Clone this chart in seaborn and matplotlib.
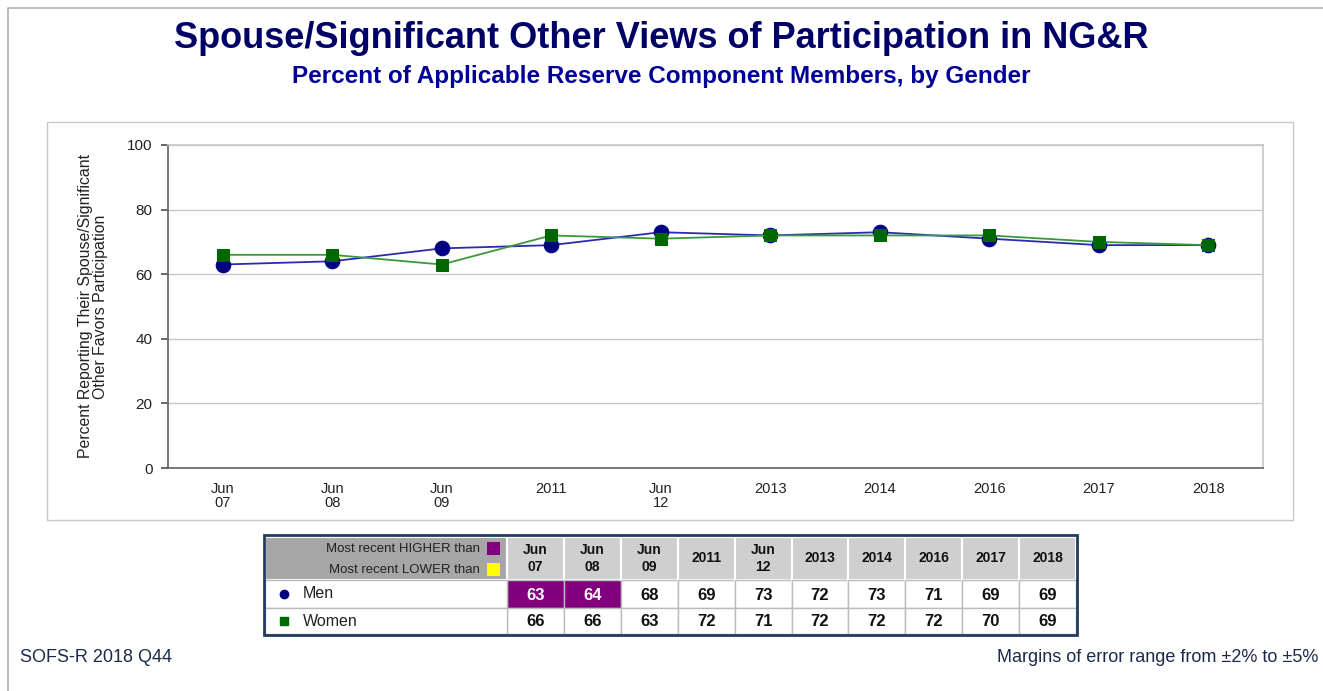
import matplotlib.pyplot as plt
import seaborn as sns
import pandas as pd
from matplotlib.patches import Rectangle

# data
periods = ["Jun\n07", "Jun\n08", "Jun\n09", "2011", "Jun\n12",
           "2013", "2014", "2016", "2017", "2018"]
men = [63, 64, 68, 69, 73, 72, 73, 71, 69, 69]
women = [66, 66, 63, 72, 71, 72, 72, 72, 70, 69]
# significance vs most recent: "higher" / "lower" / None
men_sig = ["higher", "higher", None, None, None, None, None, None, None, None]
women_sig = [None] * 10

yticks = [0, 20, 40, 60, 80, 100]

NAVY = "#0a0a6b"
GREEN = "#006600"
SIG_COLORS = {"higher": "#800080", "lower": "#ffff00"}

sns.set_theme(style="white")
plt.rcParams["font.family"] = ["Liberation Sans", "DejaVu Sans"]

W, H = 1323, 691
fig = plt.figure(figsize=(W / 100, H / 100), dpi=100)

# background overlay in pixel coords
bg = fig.add_axes([0, 0, 1, 1], zorder=0)
bg.set_xlim(0, W)
bg.set_ylim(H, 0)
bg.axis("off")
bg.plot([8, 8, W], [H, 8, 8], color="#b0b0b0", lw=1.2)
bg.add_patch(Rectangle((47, 122), 1246, 398, fill=False, ec="#c8c8c8", lw=1))

fig.text(0.5, 1 - 38 / H, "Spouse/Significant Other Views of Participation in NG&R",
         ha="center", va="center", fontsize=26, fontweight="bold", color="#000066")
fig.text(0.5, 1 - 76 / H, "Percent of Applicable Reserve Component Members, by Gender",
         ha="center", va="center", fontsize=17.5, fontweight="bold", color="#000099")

# main chart
ax = fig.add_axes([168 / W, 1 - 468 / H, (1263 - 168) / W, (468 - 145) / H], zorder=1)
ax.patch.set_alpha(0)
df = pd.DataFrame({
    "x": list(range(len(periods))) * 2,
    "value": men + women,
    "group": ["Men"] * len(men) + ["Women"] * len(women),
})
sns.lineplot(data=df[df.group == "Men"], x="x", y="value", ax=ax, color="#2b2bb0",
             lw=1.3, marker="o", markersize=10.5, markerfacecolor="#000080",
             markeredgecolor="#000080", legend=False)
sns.lineplot(data=df[df.group == "Women"], x="x", y="value", ax=ax, color="#3a9a3a",
             lw=1.3, marker="s", markersize=8.5, markerfacecolor=GREEN,
             markeredgecolor=GREEN, legend=False)

ax.set_xlim(-0.5, len(periods) - 0.5)
ax.set_ylim(0, 100)
ax.set_yticks(yticks)
ax.set_xticks(range(len(periods)))
ax.set_xticklabels(periods, fontsize=10.5, color="#222222", linespacing=1.0)
ax.set_xticks([i + 0.5 for i in range(-1, len(periods))], minor=True)
ax.tick_params(axis="x", which="major", length=0, pad=10)
ax.tick_params(axis="x", which="minor", length=5, color="#555555", direction="out")
ax.tick_params(axis="y", length=5, color="#555555", direction="out", left=True,
               labelsize=11, labelcolor="#222222", pad=6)
ax.yaxis.grid(True, color="#c8c8c8", lw=1)
for s in ["left", "bottom"]:
    ax.spines[s].set_color("#666666")
for s in ["top", "right"]:
    ax.spines[s].set_color("#c8c8c8")
ax.set_xlabel("")
ax.set_ylabel("Percent Reporting Their Spouse/Significant\nOther Favors Participation",
              fontsize=11.4, color="#222222", linespacing=1.0, labelpad=14)

# table
tx0, tx1 = 265, 1076
first_w = 242
col_w = (tx1 - tx0 - first_w) / len(periods)
ry = [537, 580, 608, 634]
hdr_dark, hdr_light = "#a6a6a6", "#cfcfcf"
bg.add_patch(Rectangle((tx0, ry[0]), first_w, ry[1] - ry[0], fc=hdr_dark, ec="white", lw=1.5))
bg.text(480, 549, "Most recent HIGHER than", ha="right", va="center", fontsize=9.5, color="#222222")
bg.text(480, 570, "Most recent LOWER than", ha="right", va="center", fontsize=9.5, color="#222222")
bg.add_patch(Rectangle((487, 542), 13, 13, fc=SIG_COLORS["higher"], ec="none"))
bg.add_patch(Rectangle((487, 563), 13, 13, fc=SIG_COLORS["lower"], ec="none"))

rows = [("Men", men, men_sig, "o", "#000080"), ("Women", women, women_sig, "s", GREEN)]
for j, lab in enumerate(periods):
    cx = tx0 + first_w + j * col_w
    bg.add_patch(Rectangle((cx, ry[0]), col_w, ry[1] - ry[0], fc=hdr_light, ec="white", lw=1.5))
    bg.text(cx + col_w / 2, (ry[0] + ry[1]) / 2, lab, ha="center", va="center",
            fontsize=10, fontweight="bold", color="#111111", linespacing=1.25)
    for r, (name, vals, sig, mk, mc) in enumerate(rows):
        fc = SIG_COLORS[sig[j]] if sig[j] else "white"
        tc = "white" if sig[j] == "higher" else "#111111"
        bg.add_patch(Rectangle((cx, ry[r + 1]), col_w, ry[r + 2] - ry[r + 1],
                               fc=fc, ec="#bbbbbb", lw=1))
        bg.text(cx + col_w / 2, (ry[r + 1] + ry[r + 2]) / 2 + 1, str(vals[j]),
                ha="center", va="center", fontsize=12, fontweight="bold", color=tc)

for r, (name, vals, sig, mk, mc) in enumerate(rows):
    yc = (ry[r + 1] + ry[r + 2]) / 2
    bg.add_patch(Rectangle((tx0, ry[r + 1]), first_w, ry[r + 2] - ry[r + 1],
                           fc="white", ec="#bbbbbb", lw=1))
    bg.plot([284], [yc], marker=mk, color=mc, markersize=6)
    bg.text(303, yc, name, ha="left", va="center", fontsize=11.5, color="#222222")

bg.add_patch(Rectangle((tx0 - 1, ry[0] - 2), tx1 - tx0 + 2, ry[3] - ry[0] + 3,
                       fill=False, ec="#243a5e", lw=2))

fig.text(20 / W, 1 - 658 / H, "SOFS-R 2018 Q44", ha="left", va="center",
         fontsize=13, color="#1a2a4a")
fig.text(1318 / W, 1 - 658 / H, "Margins of error range from \u00b12% to \u00b15%",
         ha="right", va="center", fontsize=13, color="#1a2a4a")

fig.savefig("out.png", dpi=100, facecolor="white")
